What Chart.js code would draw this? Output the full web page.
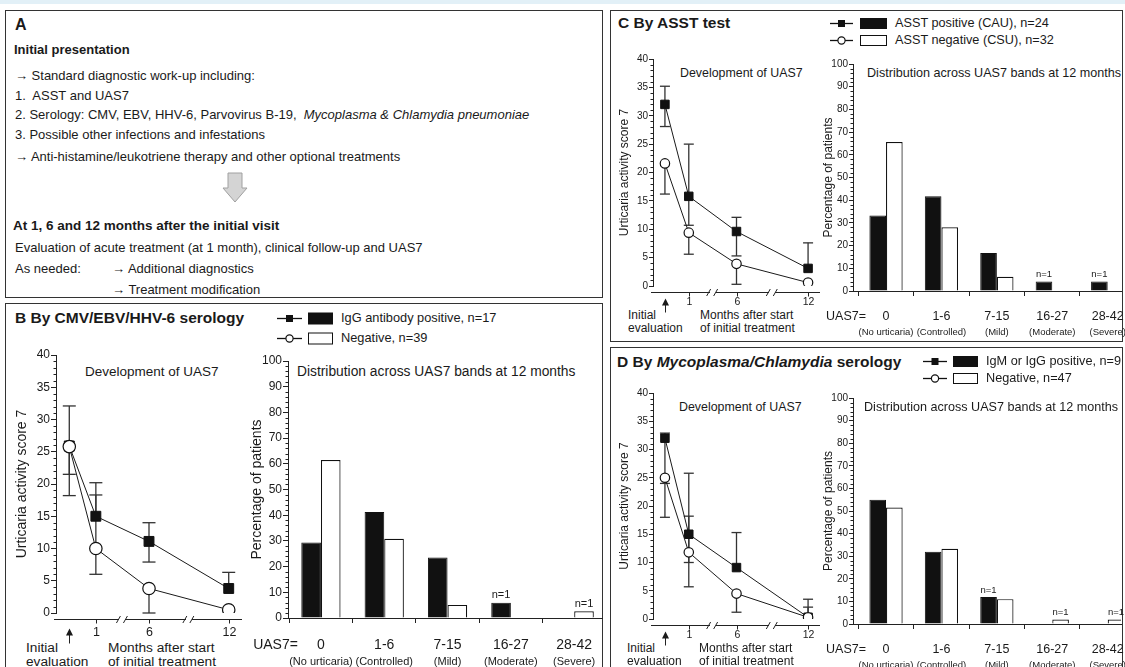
<!DOCTYPE html>
<html>
<head>
<meta charset="utf-8">
<title>UAS7 follow-up by serology and ASST</title>
<script src="https://cdn.jsdelivr.net/npm/chart.js@4.4.1/dist/chart.umd.min.js"></script>
<style>
  html, body { margin: 0; padding: 0; background: #fff; }
  body { position: relative; width: 1125px; height: 667px; overflow: hidden;
         font-family: "Liberation Sans", Arial, sans-serif; color: #1a1a1a; }
  .strip { position: absolute; left: 0; top: 0; width: 1125px; height: 4px; background: #e2f0f7; }
  .panel { position: absolute; border: 1.5px solid #333; box-sizing: border-box; }
  .t { position: absolute; white-space: nowrap; line-height: 1; }
  .b { font-weight: bold; }
  .wrap { position: absolute; overflow: hidden; }
</style>
</head>
<body>
<div class="strip"></div>
<div class="panel" style="left:5px;top:10px;width:598px;height:288px"></div>
<div class="panel" style="left:5px;top:303px;width:598px;height:380px"></div>
<div class="panel" style="left:610px;top:10px;width:513px;height:332px"></div>
<div class="panel" style="left:610px;top:347px;width:513px;height:340px"></div>
<svg style="position:absolute;left:222px;top:172px" width="26" height="32">
  <polygon points="6,1 20,1 20,16 25,16 13,30 1,16 6,16" fill="#d4d4d4" stroke="#a0a0a0" stroke-width="1"/>
</svg>
<script>
// time axis: visits, plus empty slots that make room for the axis breaks
const visits = ['Initial', '1', '6', '12'];
const axisSlots = ['Initial', '1', '', '6', '', '', '12'];
const bands = ['0', '1-6', '7-15', '16-27', '28-42'];
const bandNames = ['(No urticaria)', '(Controlled)', '(Mild)', '(Moderate)', '(Severe)'];

// B: CMV/EBV/HHV-6 serology (UAS7 mean with error bar ends)
const bPosMean = [25.9, 15, 11.1, 3.8];
const bPosLow = [21.5, 15, 7.9, 3.8];
const bPosHigh = [32.1, 20.2, 14, 6.3];
const bNegMean = [25.8, 10, 3.8, 0.5];
const bNegLow = [18.2, 6, 0, 0.5];
const bNegHigh = [25.8, 18.3, 3.8, 0.5];
const bPosPct = [29.4, 41.2, 23.5, 5.9, 0];
const bNegPct = [61.5, 30.8, 5.1, 0, 2.6];
const bPosNotes = ['', '', '', 'n=1', ''];
const bNegNotes = ['', '', '', '', 'n=1'];

// C: ASST test
const cPosMean = [32, 15.8, 9.6, 3.1];
const cPosLow = [28.1, 10.7, 5.3, 3.1];
const cPosHigh = [35.2, 25, 12.1, 7.6];
const cNegMean = [21.6, 9.4, 3.9, 0.6];
const cNegLow = [16.2, 5.6, 0.3, 0.6];
const cNegHigh = [21.6, 9.4, 3.9, 0.6];
const cPosPct = [33.3, 41.7, 16.7, 4.2, 4.2];
const cNegPct = [65.6, 28.1, 6.3, 0, 0];
const cPosNotes = ['', '', '', 'n=1', 'n=1'];
const cNegNotes = ['', '', '', '', ''];

// D: Mycoplasma/Chlamydia serology
const dPosMean = [32, 15, 9.1, 0.3];
const dPosLow = [24, 10, 9.1, 0.3];
const dPosHigh = [32.9, 25.8, 15.3, 3.5];
const dNegMean = [25, 11.8, 4.5, 0.3];
const dNegLow = [18, 5.7, 1.2, 0.3];
const dNegHigh = [25, 18.2, 4.5, 2.1];
const dPosPct = [55, 32, 12, 0, 0];
const dNegPct = [51.5, 33.3, 11, 2, 2];
const dPosNotes = ['', '', 'n=1', '', ''];
const dNegNotes = ['', '', '', 'n=1', 'n=1'];

const FONT = '"Liberation Sans", Arial, sans-serif';
const INK = '#1a1a1a';
Chart.defaults.font.family = FONT;
Chart.defaults.color = INK;

function txt(x, y, html, size, opt = {}) {
  const d = document.createElement('div');
  d.className = 't' + (opt.bold ? ' b' : '');
  d.innerHTML = html;
  d.style.fontSize = size + 'px';
  d.style.left = x + 'px';
  d.style.top = (y - size / 2) + 'px';
  document.body.appendChild(d);
}

function legendRow(x, y, lineW, boxGap, boxW, boxH, filled, text, size) {
  const w = lineW + boxGap + boxW, mid = lineW / 2;
  const marker = filled
    ? `<rect x="${mid - 3.5}" y="4" width="7" height="7" fill="#111"/>`
    : `<circle cx="${mid}" cy="7.5" r="3.6" fill="#fff" stroke="#111" stroke-width="1.2"/>`;
  document.body.insertAdjacentHTML('beforeend',
    `<svg width="${w}" height="15" style="position:absolute;left:${x}px;top:${y - 7.5}px">` +
    `<line x1="0" y1="7.5" x2="${lineW}" y2="7.5" stroke="#111" stroke-width="1.3"/>${marker}` +
    `<rect x="${lineW + boxGap + 0.5}" y="${7.5 - boxH / 2}" width="${boxW - 1}" height="${boxH}" ` +
    `fill="${filled ? '#111' : '#fff'}" stroke="#111"/></svg>`);
  txt(x + w + 8, y, text, size);
}

function canvasAt(g) {
  const w = document.createElement('div');
  w.className = 'wrap';
  Object.assign(w.style, {left: g.cx + 'px', top: g.cy + 'px', width: g.cw + 'px', height: g.ch + 'px'});
  const c = document.createElement('canvas');
  c.width = g.cw; c.height = g.ch;
  w.appendChild(c);
  document.body.appendChild(w);
  return c;
}

function seg(ctx, x1, y1, x2, y2) {
  ctx.beginPath(); ctx.moveTo(x1, y1); ctx.lineTo(x2, y2); ctx.stroke();
}

// spread a per-visit array over the axis slots (empty slots -> null)
function expand(arr) {
  return axisSlots.map(s => visits.indexOf(s) >= 0 ? arr[visits.indexOf(s)] : null);
}

const errorBars = {
  id: 'errorBars',
  beforeDatasetsDraw(chart, args, o) {
    const {ctx} = chart, y = chart.scales.y;
    ctx.save();
    ctx.strokeStyle = '#333';
    ctx.lineWidth = 1.3;
    chart.data.datasets.forEach((ds, di) => {
      const pts = chart.getDatasetMeta(di).data;
      ds.data.forEach((v, i) => {
        if (v == null) return;
        const x = pts[i].x;
        const plo = y.getPixelForValue(ds.low[i]), phi = y.getPixelForValue(ds.high[i]);
        seg(ctx, x, plo, x, phi);
        if (ds.low[i] < v) seg(ctx, x - o.cap, plo, x + o.cap, plo);
        if (ds.high[i] > v) seg(ctx, x - o.cap, phi, x + o.cap, phi);
      });
    });
    ctx.restore();
  }
};

function minorTicks(ctx, a, y, step, major) {
  for (let v = y.min; v <= y.max; v += step) {
    if (v % major === 0) continue;
    const py = Math.round(y.getPixelForValue(v)) + 0.5;
    seg(ctx, a.left - 2.5, py, a.left, py);
  }
}

// detached time axis with breaks and the "initial evaluation" arrow
const timeAxis = {
  id: 'timeAxis',
  afterDraw(chart, args, o) {
    const {ctx, chartArea: a} = chart, x = chart.scales.x, y = chart.scales.y;
    ctx.save();
    ctx.strokeStyle = '#222'; ctx.fillStyle = INK; ctx.lineWidth = 1;
    minorTicks(ctx, a, y, 1, 5);
    const ay = Math.round(a.bottom + o.gap) + 0.5;
    seg(ctx, a.left - 2, ay, a.right, ay);
    ctx.font = o.xtick + 'px ' + FONT;
    ctx.textAlign = 'center'; ctx.textBaseline = 'middle';
    axisSlots.forEach((s, i) => {
      const px = Math.round(x.getPixelForValue(i)) + 0.5;
      if (s === 'Initial') {
        seg(ctx, px, ay + o.arrowTop + 5, px, ay + o.arrowBot);
        ctx.beginPath();
        ctx.moveTo(px, ay + o.arrowTop);
        ctx.lineTo(px - 3.5, ay + o.arrowTop + 7);
        ctx.lineTo(px + 3.5, ay + o.arrowTop + 7);
        ctx.closePath(); ctx.fill();
      } else if (s) {
        seg(ctx, px, ay, px, ay + 4);
        ctx.fillText(s, px, ay + o.lblDy);
      }
    });
    const p1 = x.getPixelForValue(2);
    const p2 = (x.getPixelForValue(4) + x.getPixelForValue(5)) / 2;
    [p1, p2].forEach(p => {
      ctx.clearRect(p - 3, ay - 2, 6, 4);
      seg(ctx, p - 6, ay + 3.5, p - 2, ay - 3.5);
      seg(ctx, p + 1, ay + 3.5, p + 5, ay - 3.5);
    });
    ctx.restore();
  }
};

const bandAxis = {
  id: 'bandAxis',
  afterDraw(chart, args, o) {
    const {ctx, chartArea: a} = chart, x = chart.scales.x, y = chart.scales.y;
    ctx.save();
    ctx.strokeStyle = '#222'; ctx.fillStyle = INK; ctx.lineWidth = 1;
    minorTicks(ctx, a, y, 2, 10);
    ctx.textAlign = 'center'; ctx.textBaseline = 'bottom';
    ctx.font = o.note + 'px ' + FONT;
    chart.data.datasets.forEach((ds, di) => {
      chart.getDatasetMeta(di).data.forEach((bar, i) => {
        if (ds.notes[i]) ctx.fillText(ds.notes[i], bar.x, bar.y - 2);
      });
    });
    ctx.textBaseline = 'middle';
    bands.forEach((b, i) => {
      const px = x.getPixelForValue(i);
      ctx.font = o.band + 'px ' + FONT;
      ctx.fillText(b, px, a.bottom + o.row1);
      ctx.font = o.sub + 'px ' + FONT;
      ctx.fillText(bandNames[i], px, a.bottom + o.row2);
    });
    ctx.font = o.band + 'px ' + FONT;
    ctx.textAlign = 'right';
    ctx.fillText('UAS7=', x.getPixelForValue(0) - o.prefixGap, a.bottom + o.row1);
    ctx.restore();
  }
};

function yAxis(g, max, step, title) {
  return {
    min: 0, max: max,
    ticks: {stepSize: step, padding: 1, color: INK, font: {size: g.tick}},
    grid: {drawOnChartArea: false, tickLength: g.tickLen, color: '#222'},
    border: {color: '#222', width: 1},
    title: {display: true, text: title, color: INK, font: {size: g.ytitle},
            padding: {top: g.titleX - 0.6 * g.ytitle, bottom: 0}},
    afterFit: sc => { sc.width = g.L - g.cx; }
  };
}

function lineChart(g, pos, neg) {
  new Chart(canvasAt(g), {
    type: 'line',
    data: {
      labels: axisSlots,
      datasets: [
        {data: expand(pos[0]), low: expand(pos[1]), high: expand(pos[2]), order: 1,
         borderColor: '#1a1a1a', borderWidth: 1, spanGaps: true,
         pointStyle: 'rect', pointRadius: g.sq, pointBackgroundColor: '#111', pointBorderColor: '#111'},
        {data: expand(neg[0]), low: expand(neg[1]), high: expand(neg[2]), order: 0,
         borderColor: '#1a1a1a', borderWidth: 1, spanGaps: true,
         pointStyle: 'circle', pointRadius: g.circ, pointBackgroundColor: '#fff',
         pointBorderColor: '#111', pointBorderWidth: 1.2}
      ]
    },
    options: {
      responsive: false, animation: false, events: [],
      layout: {padding: {left: 0, top: g.T - g.cy, right: g.cx + g.cw - g.R, bottom: 0}},
      plugins: {legend: {display: false}, tooltip: {enabled: false}, errorBars: g, timeAxis: g},
      scales: {
        x: {type: 'category', offset: true, grid: {display: false, drawTicks: false},
            border: {display: false}, ticks: {display: false},
            afterFit: sc => { sc.height = g.cy + g.ch - g.B; }},
        y: yAxis(g, 40, 5, 'Urticaria activity score 7')
      }
    },
    plugins: [errorBars, timeAxis]
  });
}

function barChart(g, posPct, negPct, posNotes, negNotes) {
  new Chart(canvasAt(g), {
    type: 'bar',
    data: {
      datasets: [
        {data: posPct.map((v, i) => ({x: i, y: v})), notes: posNotes,
         backgroundColor: '#111', borderColor: '#111', borderWidth: 1,
         categoryPercentage: g.catPct, barPercentage: 1},
        {data: negPct.map((v, i) => ({x: i, y: v})), notes: negNotes,
         backgroundColor: '#fff', borderColor: '#111', borderWidth: 1.2,
         categoryPercentage: g.catPct, barPercentage: 1}
      ]
    },
    options: {
      responsive: false, animation: false, events: [],
      layout: {padding: {left: 0, top: g.T - g.cy, right: g.cx + g.cw - g.R, bottom: 0}},
      plugins: {legend: {display: false}, tooltip: {enabled: false}, bandAxis: g},
      scales: {
        x: {type: 'linear', min: g.xmin, max: g.xmax, offset: false,
            afterBuildTicks: sc => { sc.ticks = bands.map((b, i) => ({value: i})); },
            grid: {drawOnChartArea: false, tickLength: 5, color: '#222'},
            border: {color: '#222', width: 1}, ticks: {display: false},
            afterFit: sc => { sc.height = g.cy + g.ch - g.B; }},
        y: yAxis(g, 100, 10, 'Percentage of patients')
      }
    },
    plugins: [bandAxis]
  });
}

// ---------- panel A ----------
txt(15, 25, 'A', 16, {bold: true});
txt(14, 49, 'Initial presentation', 13, {bold: true});
txt(15, 75, '&rarr; Standard diagnostic work-up including:', 13);
txt(15, 95, '1.&nbsp; ASST and UAS7', 13);
txt(15, 114, '2. Serology: CMV, EBV, HHV-6, Parvovirus B-19,&nbsp; <i>Mycoplasma &amp; Chlamydia pneumoniae</i>', 13);
txt(15, 134, '3. Possible other infections and infestations', 13);
txt(15, 156, '&rarr; Anti-histamine/leukotriene therapy and other optional treatments', 13);
txt(13, 226, 'At 1, 6 and 12 months after the initial visit', 13.5, {bold: true});
txt(15, 247, 'Evaluation of acute treatment (at 1 month), clinical follow-up and UAS7', 13);
txt(15, 268, 'As needed:', 13);
txt(112, 268, '&rarr; Additional diagnostics', 13);
txt(112, 289, '&rarr; Treatment modification', 13);

// ---------- panel B ----------
txt(15, 318, 'B By CMV/EBV/HHV-6 serology', 15.5, {bold: true});
legendRow(277, 318, 25, 6, 25, 11, true, 'IgG antibody positive, n=17', 12.8);
legendRow(277, 338, 25, 6, 25, 11, false, 'Negative, n=39', 12.8);
txt(85, 372, 'Development of UAS7', 13.5);
txt(297, 372, 'Distribution across UAS7 bands at 12 months', 13.8);
txt(26, 648, 'Initial', 13.7);
txt(26, 662, 'evaluation', 13.7);
txt(108, 648, 'Months after start', 13.7);
txt(108, 662, 'of initial treatment', 13.7);

const bigLine = {tick: 12, xtick: 12.5, ytitle: 14, tickLen: 5, cap: 6.5, sq: 7, circ: 6.2, gap: 6, lblDy: 13, arrowTop: 9, arrowBot: 24};
const smallLine = {tick: 10, xtick: 10.5, ytitle: 12, tickLen: 4, cap: 5, sq: 6, circ: 4.7, gap: 6, lblDy: 10, arrowTop: 6, arrowBot: 20};
const bigBar = {tick: 12, ytitle: 14, tickLen: 5, band: 14, sub: 11, note: 11, row1: 27, row2: 44, prefixGap: 23, catPct: 0.62};
const smallBar = {tick: 10, ytitle: 12, tickLen: 4, band: 12.5, sub: 9.5, note: 9.5, row1: 26, row2: 41, prefixGap: 20, catPct: 0.6};

lineChart(Object.assign({cx: 0, cy: 340, cw: 250, ch: 327, L: 56, T: 355, R: 245, B: 613, titleX: 22}, bigLine),
  [bPosMean, bPosLow, bPosHigh], [bNegMean, bNegLow, bNegHigh]);
barChart(Object.assign({cx: 240, cy: 340, cw: 363, ch: 327, L: 288, T: 361, R: 603, B: 618,
  xmin: -0.52, xmax: 4.455, titleX: 17}, bigBar), bPosPct, bNegPct, bPosNotes, bNegNotes);

// ---------- panel C ----------
txt(618, 23, 'C By ASST test', 15.5, {bold: true});
legendRow(830, 23, 23, 7, 27, 10, true, 'ASST positive (CAU), n=24', 12.7);
legendRow(830, 40, 23, 7, 27, 10, false, 'ASST negative (CSU), n=32', 12.7);
txt(680, 73, 'Development of UAS7', 12.4);
txt(867, 73, 'Distribution across UAS7 bands at 12 months', 12.6);
txt(628, 315, 'Initial', 12);
txt(628, 328, 'evaluation', 12);
txt(700, 315, 'Months after start', 12);
txt(700, 328, 'of initial treatment', 12);

lineChart(Object.assign({cx: 610, cy: 40, cw: 220, ch: 302, L: 653, T: 59, R: 820, B: 286, titleX: 15}, smallLine),
  [cPosMean, cPosLow, cPosHigh], [cNegMean, cNegLow, cNegHigh]);
barChart(Object.assign({cx: 800, cy: 40, cw: 325, ch: 302, L: 853, T: 64, R: 1121, B: 291,
  xmin: -0.596, xmax: 4.24, titleX: 29}, smallBar), cPosPct, cNegPct, cPosNotes, cNegNotes);

// ---------- panel D ----------
txt(617, 362, 'D By <i>Mycoplasma/Chlamydia</i> serology', 15.5, {bold: true});
legendRow(923, 361, 24, 6, 25, 10, true, 'IgM or IgG positive, n=9', 12.7);
legendRow(923, 378, 24, 6, 25, 10, false, 'Negative, n=47', 12.7);
txt(679, 407, 'Development of UAS7', 12.4);
txt(864, 407, 'Distribution across UAS7 bands at 12 months', 12.6);
txt(627, 648, 'Initial', 12);
txt(627, 661, 'evaluation', 12);
txt(699, 648, 'Months after start', 12);
txt(699, 661, 'of initial treatment', 12);

lineChart(Object.assign({cx: 610, cy: 375, cw: 220, ch: 292, L: 653, T: 393, R: 820, B: 619, titleX: 15}, smallLine),
  [dPosMean, dPosLow, dPosHigh], [dNegMean, dNegLow, dNegHigh]);
barChart(Object.assign({cx: 800, cy: 375, cw: 325, ch: 292, L: 853, T: 398, R: 1121, B: 624,
  xmin: -0.596, xmax: 4.24, titleX: 29}, smallBar), dPosPct, dNegPct, dPosNotes, dNegNotes);
</script>
</body>
</html>
